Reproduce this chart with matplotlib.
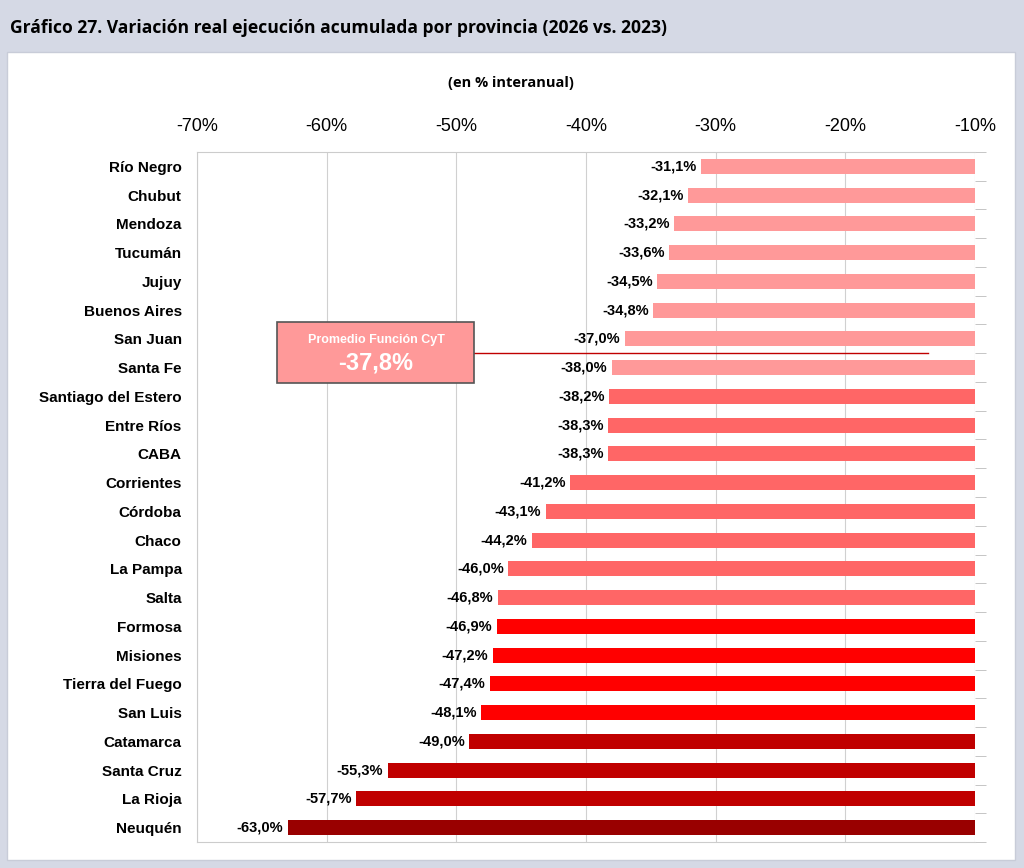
import matplotlib.pyplot as plt
import matplotlib.patches as patches
import numpy as np

provincias = ["Río Negro", "Chubut", "Mendoza", "Tucumán", "Jujuy", "Buenos Aires",
              "San Juan", "Santa Fe", "Santiago del Estero", "Entre Ríos", "CABA",
              "Corrientes", "Córdoba", "Chaco", "La Pampa", "Salta", "Formosa",
              "Misiones", "Tierra del Fuego", "San Luis", "Catamarca", "Santa Cruz",
              "La Rioja", "Neuquén"]
variacion = [-31.1, -32.1, -33.2, -33.6, -34.5, -34.8, -37.0, -38.0, -38.2, -38.3,
             -38.3, -41.2, -43.1, -44.2, -46.0, -46.8, -46.9, -47.2, -47.4, -48.1,
             -49.0, -55.3, -57.7, -63.0]
colores = ["#FF9999"] * 8 + ["#FF6666"] * 8 + ["#FF0000"] * 4 + ["#C00000"] * 3 + ["#990000"]
promedio = -37.8
ticks = [-70, -60, -50, -40, -30, -20, -10]

fondo = "#D5D9E5"
fig = plt.figure(figsize=(10.24, 8.68), dpi=100, facecolor=fondo)
plt.rcParams['font.family'] = ['Liberation Sans', 'DejaVu Sans']

# panel blanco
fig.patches.append(patches.Rectangle((7/1024, 1-860/868), 1008/1024, 808/868,
                                     transform=fig.transFigure, facecolor="white",
                                     edgecolor="#C8CCD8", lw=1, zorder=-5))

fig.text(10/1024, 1-28/868, "Gráfico 27. Variación real ejecución acumulada por provincia (2026 vs. 2023)",
         fontsize=12.6, fontweight="bold", family=["Open Sans", "DejaVu Sans"], va="center", ha="left")
fig.text(511/1024, 1-83/868, "(en % interanual)", fontsize=10.5, fontweight="bold",
         family=["Open Sans", "DejaVu Sans"], va="center", ha="center")

ax = fig.add_axes([197/1024, 26/868, 778/1024, 690/868])
ax.set_facecolor("none")
y = np.arange(len(provincias))
base = -10
ax.barh(y, [v - base for v in variacion], left=base, height=0.53, color=colores, zorder=3)

for yi, v in zip(y, variacion):
    ax.text(v - 0.35, yi, f"{v:.1f}%".replace(".", ","), ha="right", va="center",
            fontsize=10.5, fontweight="bold", zorder=4)

ax.set_xlim(-70, -10)
ax.set_ylim(len(provincias) - 0.5, -0.5)
ax.set_xticks(ticks)
ax.set_xticklabels([f"{t}%" for t in ticks], fontsize=13)
ax.xaxis.tick_top()
ax.tick_params(axis="x", length=0, pad=12)
ax.grid(axis="x", color="#D0D0D0", lw=0.8, zorder=0)

ax.set_yticks(y)
ax.set_yticklabels(provincias, fontsize=11, fontweight="bold")
ax.tick_params(axis="y", length=0, pad=11)
ax.set_yticks(np.arange(len(provincias) + 1) - 0.5, minor=True)
ax.tick_params(axis="y", which="minor", right=True, left=False, length=8,
               color="#BBBBBB", direction="out")

for s in ["left", "top", "bottom"]:
    ax.spines[s].set_color("#CCCCCC")
ax.spines["right"].set_visible(False)

# recuadro del promedio
ax.plot([-48.6, -13.6], [6.5, 6.5], color="#C00000", lw=1, zorder=5)
ax.add_patch(patches.Rectangle((-63.8, 7.55), 15.2, -2.15, facecolor="#FF9999",
                               edgecolor="#555555", lw=1.2, zorder=6))
ax.text(-56.2, 6.05, "Promedio Función CyT", color="white", fontsize=9,
        fontweight="bold", ha="center", va="center", zorder=7)
ax.text(-56.2, 6.85, f"{promedio:.1f}%".replace(".", ","), color="white", fontsize=17,
        fontweight="bold", ha="center", va="center", zorder=7)

fig.savefig("out.png", dpi=100, facecolor=fondo)
